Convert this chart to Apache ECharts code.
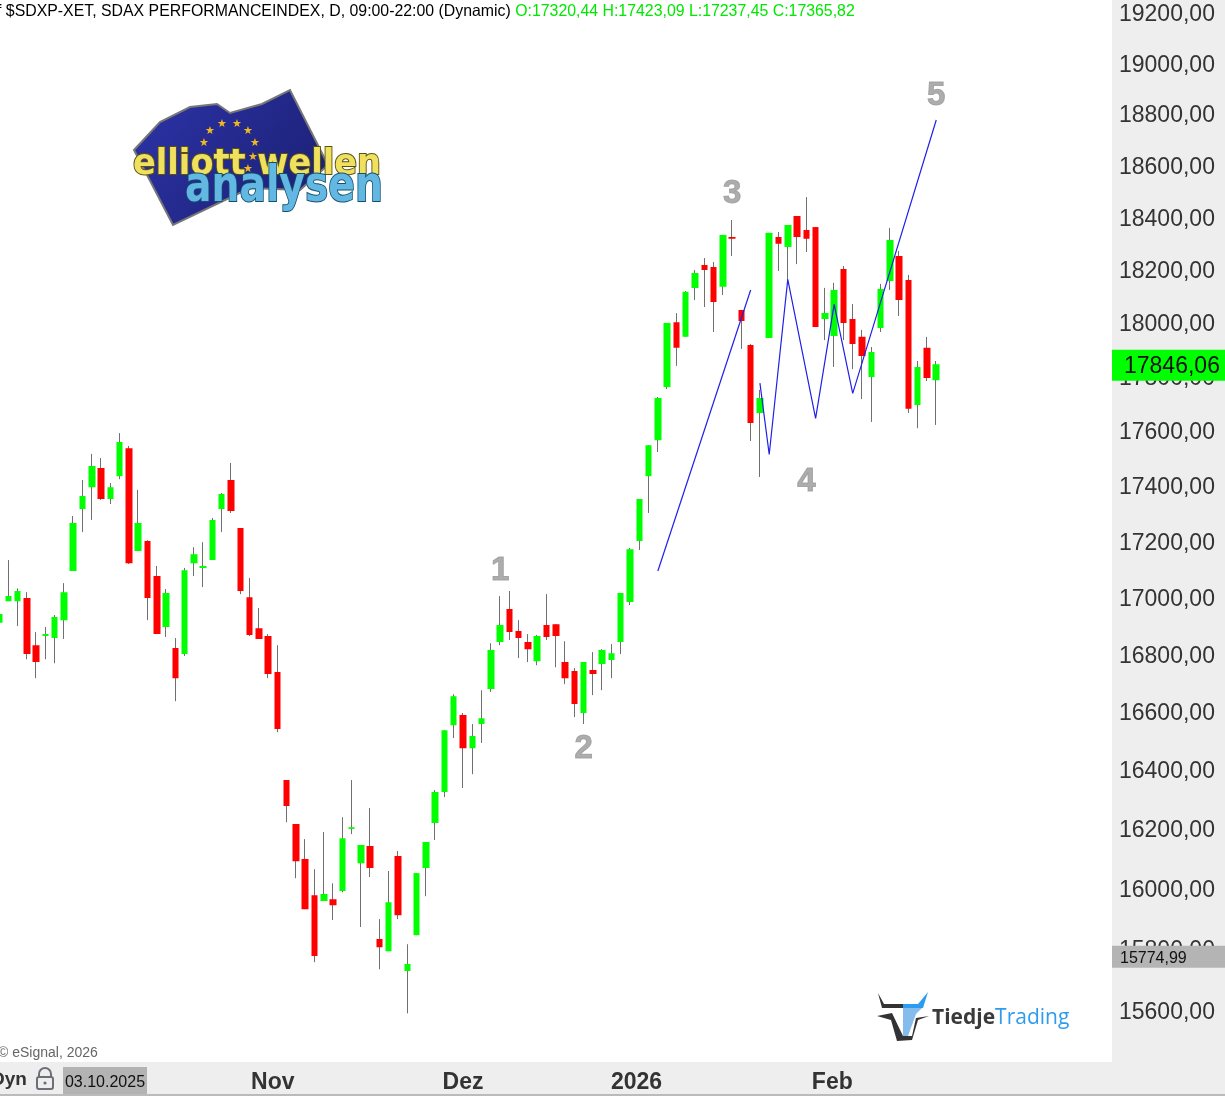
<!DOCTYPE html>
<html>
<head>
<meta charset="utf-8">
<title>SDAX</title>
<style>
html,body{margin:0;padding:0;background:#fff;overflow:hidden}
#chart{width:1225px;height:1096px}
</style>
<script src="https://cdn.jsdelivr.net/npm/echarts@6/dist/echarts.min.js"></script>
</head>
<body>
<div id="chart"></div>
<script>
// trading days, Xetra calendar
var dates = [
	'2025-09-22','2025-09-23','2025-09-24','2025-09-25','2025-09-26','2025-09-29','2025-09-30','2025-10-01','2025-10-02','2025-10-03',
	'2025-10-06','2025-10-07','2025-10-08','2025-10-09','2025-10-10','2025-10-13','2025-10-14','2025-10-15','2025-10-16','2025-10-17',
	'2025-10-20','2025-10-21','2025-10-22','2025-10-23','2025-10-24','2025-10-27','2025-10-28','2025-10-29','2025-10-30','2025-10-31',
	'2025-11-03','2025-11-04','2025-11-05','2025-11-06','2025-11-07','2025-11-10','2025-11-11','2025-11-12','2025-11-13','2025-11-14',
	'2025-11-17','2025-11-18','2025-11-19','2025-11-20','2025-11-21','2025-11-24','2025-11-25','2025-11-26','2025-11-27','2025-11-28',
	'2025-12-01','2025-12-02','2025-12-03','2025-12-04','2025-12-05','2025-12-08','2025-12-09','2025-12-10','2025-12-11','2025-12-12',
	'2025-12-15','2025-12-16','2025-12-17','2025-12-18','2025-12-19','2025-12-22','2025-12-23','2025-12-29','2025-12-30','2026-01-02',
	'2026-01-05','2026-01-06','2026-01-07','2026-01-08','2026-01-09','2026-01-12','2026-01-13','2026-01-14','2026-01-15','2026-01-16',
	'2026-01-19','2026-01-20','2026-01-21','2026-01-22','2026-01-23','2026-01-26','2026-01-27','2026-01-28','2026-01-29','2026-01-30',
	'2026-02-02','2026-02-03','2026-02-04','2026-02-05','2026-02-06','2026-02-09','2026-02-10','2026-02-11','2026-02-12','2026-02-13',
	'2026-02-16','2026-02-17'
];
var opens = [
	16911,16987,16987,16998,16832,16864,16857,16920,17094,17316,
	17395,17465,17352,17435,17537,17165,17201,17076,16896,16822,
	16801,17122,17105,17133,17316,17421,17248,17001,16892,16864,
	16738,16366,16217,16099,15978,15959,15965,15992,16200,16085,
	16143,15833,15793,16109,15728,15846,16069,16220,16325,16554,
	16589,16475,16558,16679,16843,16959,16882,16843,16776,16903,
	16906,16773,16742,16596,16745,16766,16780,16843,16984,17201,
	17435,17566,17762,18003,17948,18132,18219,18211,18136,18325,
	18049,17918,17666,17944,18325,18287,18405,18352,18363,18015,
	17951,18203,18015,17948,17799,17981,18158,18253,18162,17695,
	17907,17787
];
var closes = [
	16942,17005,17023,16801,16773,16871,16931,17019,17266,17363,
	17472,17352,17395,17559,17122,17266,16998,16871,17016,16717,
	17097,17154,17112,17277,17370,17309,17023,16868,16854,16731,
	16541,16278,16092,15932,15777,15982,15945,16169,16206,16146,
	16069,15806,15955,15912,15751,16052,16156,16325,16537,16654,
	16475,16517,16578,16815,16903,16878,16857,16818,16864,16861,
	16864,16717,16627,16773,16731,16815,16804,17016,17172,17352,
	17548,17721,18000,17907,18117,18188,18200,18079,18333,18318,
	18007,17629,17721,18341,18299,18371,18325,18318,17985,18037,
	18124,18000,17921,17877,17892,18128,18314,18086,17681,17836,
	17795,17846.06
];
var lows = [
	16903,16987,16899,16783,16717,16783,16769,16854,17094,17233,
	17277,17349,17334,17424,17119,17165,16920,16871,16861,16637,
	16794,17076,17037,17133,17233,17302,17012,16864,16854,16717,
	16530,16223,16035,15932,15757,15959,15896,15988,16183,15873,
	16039,15734,15793,15899,15590,15846,15975,16163,16308,16510,
	16339,16386,16493,16669,16832,16850,16787,16773,16762,16850,
	16755,16696,16582,16558,16658,16675,16717,16801,16973,17169,
	17302,17523,17754,17840,17948,18086,18060,17966,18105,18253,
	17903,17563,17432,17944,18196,18162,18222,18268,17985,17936,
	17836,17936,17828,17717,17633,17966,18124,18026,17666,17610,
	17784,17622
];
var highs = [
	16950,17133,17032,17019,16878,16896,16938,17051,17291,17421,
	17516,17501,17410,17592,17545,17385,17204,17112,17030,16857,
	17105,17179,17197,17284,17374,17483,17248,17069,16963,16871,
	16832,16366,16217,16166,16065,16190,16018,16240,16366,16146,
	16271,15899,16059,16126,15816,16052,16156,16332,16537,16661,
	16596,16558,16675,16839,17005,17023,16920,16871,16868,17012,
	16906,16846,16752,16773,16808,16818,16836,17016,17176,17352,
	17548,17725,18000,18037,18120,18200,18245,18230,18333,18390,
	18049,17921,17751,18341,18344,18371,18405,18478,18363,18132,
	18151,18215,18071,17974,17910,18147,18360,18272,18181,17858,
	17948,17858
];
var yTicks = [15600,15800,16000,16200,16400,16600,16800,17000,17200,17400,17600,17800,18000,18200,18400,18600,18800,19000,19200];
// month labels sit at these bar positions
var xTicks = [29.5,50,68.7,89.8];
var xTickLabels = ['Nov','Dez','2026','Feb'];
// wave drawing, two legs
var waveA = [[71,17094],[81,18124]];
var waveB = [[82,17776],[83,17514],[85,18164],[88,17646],[90,18070],[92,17738],[101,18777]];
var waveLabels = [[54,17101,'1'],[63,16479,'2'],[79,18498,'3'],[87,17421,'4'],[101,18879,'5']];
var lastPrice = 17846.06;
var refPrice = 15774.99;
var headerInfo = '$SDXP-XET, SDAX PERFORMANCEINDEX, D, 09:00-22:00 (Dynamic) ';
var headerOhlc = 'O:17320,44 H:17423,09 L:17237,45 C:17365,82';

var candleData = [];
for (var i = 0; i < dates.length; i++) {
	candleData.push([i, opens[i], closes[i], lows[i], highs[i]]);
}
function price(v) {
	return v.toFixed(2).replace('.', ',');
}

var font = '"Liberation Sans", Arial, sans-serif';
var mychart = echarts.init(document.getElementById('chart'));

// elliott-wellen logo
var stars = [[222,124],[237,124],[210,131],[248,131],[255,143],[204,143],[253,157],[248,169]];
var logo = [{
	type: 'polygon', z: 20,
	shape: {points: [[134,150],[160,122],[190,107],[217,104],[230,113],[262,104],[290,90],[328,165],[300,190],[250,188],[173,225]]},
	style: {
		fill: new echarts.graphic.LinearGradient(0, 0, 1, 1, [{offset: 0, color: '#2d33a8'}, {offset: 1, color: '#1a1f70'}]),
		stroke: '#777', lineWidth: 2
	}
}];
stars.forEach(function(s) {
	logo.push({type: 'text', z: 21, x: s[0], y: s[1], style: {text: '\u2605', font: '11px "DejaVu Sans"', fill: '#f0b820', align: 'center', verticalAlign: 'middle'}});
});
logo.push({type: 'text', z: 22, x: 133, y: 165, scaleX: 0.934, style: {text: 'elliott wellen', font: 'bold 36px "DejaVu Sans"', fill: '#f0e060', stroke: '#5a5210', lineWidth: 2, verticalAlign: 'middle'}});
logo.push({type: 'text', z: 23, x: 185, y: 188, scaleX: 0.785, style: {text: 'analysen', font: 'bold 50px "DejaVu Sans"', fill: '#62b8e2', stroke: '#12506f', lineWidth: 2, verticalAlign: 'middle'}});

// tiedje logo
var bull = [
	{pts: [[878,993],[884,1004],[903,1004],[903,1008],[882,1008]], c: '#333'},
	{pts: [[903,1004],[918,1004],[928,992],[923,1008],[903,1008]], c: '#2d9cf0'},
	{pts: [[903,1008],[922,1008],[916,1014],[908,1036],[903,1036]], c: '#85bcec'},
	{pts: [[877,1016],[892,1013],[903,1036],[912,1036],[916,1018],[929,1016],[918,1020],[912,1040],[897,1041],[891,1020]], c: '#333'}
];
var tiedje = bull.map(function(b) {
	return {type: 'polygon', z: 20, shape: {points: b.pts}, style: {fill: b.c}};
});
tiedje.push({type: 'text', z: 20, x: 932, y: 1018, style: {
	text: '{a|Tiedje}{b|Trading}',
	verticalAlign: 'middle',
	rich: {
		a: {font: 'bold 21px "Open Sans"', fill: '#3a3a3a'},
		b: {font: '21px "Open Sans"', fill: '#2d9cf0'}
	}
}});

var option = {
	animation: false,
	backgroundColor: '#fff',
	grid: {left: 0, top: 0, width: 1112, height: 1062},
	xAxis: {
		type: 'value',
		min: 0.108,
		max: 119.94,
		axisLine: {show: false},
		axisTick: {show: false},
		splitLine: {show: false},
		axisLabel: {
			customValues: xTicks,
			formatter: function(value) {
				return xTickLabels[xTicks.indexOf(value)] || '';
			},
			margin: 9,
			fontFamily: font,
			fontSize: 23,
			fontWeight: 'bold',
			color: '#333'
		}
	},
	yAxis: {
		type: 'log',
		position: 'right',
		min: 15433,
		max: 19252,
		axisLine: {show: false},
		axisTick: {show: false},
		splitLine: {show: false},
		axisLabel: {
			customValues: yTicks,
			formatter: function(v) {
				return '{p|' + price(v) + '}';
			},
			margin: 7,
			rich: {
				// taller line pushes the digits down onto the tick
				p: {fontFamily: font, fontSize: 23, color: '#333', lineHeight: 27, verticalAlign: 'bottom'}
			}
		}
	},
	series: [
		{
			// wicks
			name: 'wick',
			type: 'candlestick',
			data: candleData,
			barWidth: 1,
			silent: true,
			itemStyle: {color: '#707070', color0: '#707070', borderColor: '#707070', borderColor0: '#707070', borderWidth: 1},
			z: 3
		},
		{
			// bodies
			name: 'body',
			type: 'candlestick',
			data: candleData,
			barWidth: 7,
			silent: true,
			itemStyle: {color: '#00ff00', color0: '#ff0000', borderColor: 'transparent', borderColor0: 'transparent', borderWidth: 0},
			z: 4
		},
		{
			type: 'line', data: waveA, showSymbol: false, symbol: 'none', silent: true, z: 5,
			lineStyle: {color: '#2020e8', width: 1.2}
		},
		{
			type: 'line', data: waveB, showSymbol: false, symbol: 'none', silent: true, z: 5,
			lineStyle: {color: '#2020e8', width: 1.2}
		},
		{
			type: 'scatter',
			data: waveLabels,
			symbolSize: 1,
			silent: true,
			itemStyle: {color: 'transparent'},
			z: 6,
			label: {
				show: true,
				position: 'inside',
				offset: [0, 2],
				formatter: function(p) {
					return p.value[2];
				},
				fontFamily: font,
				fontSize: 33,
				fontWeight: 'bold',
				color: '#999',
				textBorderColor: '#999',
				textBorderWidth: 1
			}
		},
		{
			// price tags on the axis
			type: 'custom',
			silent: true,
			z: 30,
			data: [[0.5, lastPrice, '#00ff00', 23, 1124, 31, 1], [0.5, refPrice, '#b4b4b4', 16, 1120, 22, 0]],
			encode: {x: 0, y: 1},
			renderItem: function(params, api) {
				var y = api.coord([1, api.value(1)])[1] + api.value(6);
				var h = api.value(5);
				return {
					type: 'group',
					children: [
						{type: 'rect', shape: {x: 1112, y: y - h / 2, width: 113, height: h}, style: {fill: api.value(2)}},
						{type: 'text', x: api.value(4), y: y + 1.5, style: {
							text: price(api.value(1)),
							font: api.value(3) + 'px ' + font,
							fill: '#111',
							verticalAlign: 'middle'
						}}
					]
				};
			}
		}
	],
	graphic: [
		{type: 'rect', z: -5, shape: {x: 1112, y: 0, width: 113, height: 1096}, style: {fill: '#eeeeee'}},
		{type: 'rect', z: -5, shape: {x: 0, y: 1062, width: 1225, height: 34}, style: {fill: '#eeeeee'}},
		{type: 'rect', z: 40, shape: {x: 0, y: 1094, width: 1225, height: 2}, style: {fill: '#bbbbbb'}},
		{type: 'rect', z: 40, shape: {x: 63, y: 1067, width: 84, height: 27}, style: {fill: '#b3b3b3'}},
		{type: 'text', z: 41, x: 105, y: 1083, style: {text: '03.10.2025', font: '16px ' + font, fill: '#111', align: 'center', verticalAlign: 'middle'}},
		{type: 'text', z: 41, x: -9, y: 1080, style: {text: 'Dyn', font: 'bold 19px ' + font, fill: '#333', verticalAlign: 'middle'}},
		{type: 'rect', z: 41, shape: {x: 37, y: 1077, width: 16, height: 12, r: 2}, style: {fill: 'none', stroke: '#6c6f78', lineWidth: 2}},
		{type: 'arc', z: 41, shape: {cx: 45, cy: 1074, r: 6, startAngle: Math.PI, endAngle: 0}, style: {fill: 'none', stroke: '#6c6f78', lineWidth: 2}},
		{type: 'line', z: 41, shape: {x1: 39, y1: 1074, x2: 39, y2: 1077}, style: {stroke: '#6c6f78', lineWidth: 2}},
		{type: 'line', z: 41, shape: {x1: 51, y1: 1074, x2: 51, y2: 1077}, style: {stroke: '#6c6f78', lineWidth: 2}},
		{type: 'circle', z: 41, shape: {cx: 45, cy: 1083, r: 1.6}, style: {fill: '#6c6f78'}},
		{type: 'text', z: 41, x: -2, y: 1053, style: {text: '\u00a9 eSignal, 2026', font: '14px ' + font, fill: '#666', verticalAlign: 'middle'}},
		{type: 'text', z: 41, x: -3, y: 12, style: {
			text: '{a|f ' + headerInfo + '}{b|' + headerOhlc + '}',
			verticalAlign: 'middle',
			rich: {
				a: {font: '15.87px ' + font, fill: '#000'},
				b: {font: '15.87px ' + font, fill: '#00e800'}
			}
		}}
	].concat(logo, tiedje)
};
mychart.setOption(option);
window.onresize = mychart.resize;
</script>
</body>
</html>
